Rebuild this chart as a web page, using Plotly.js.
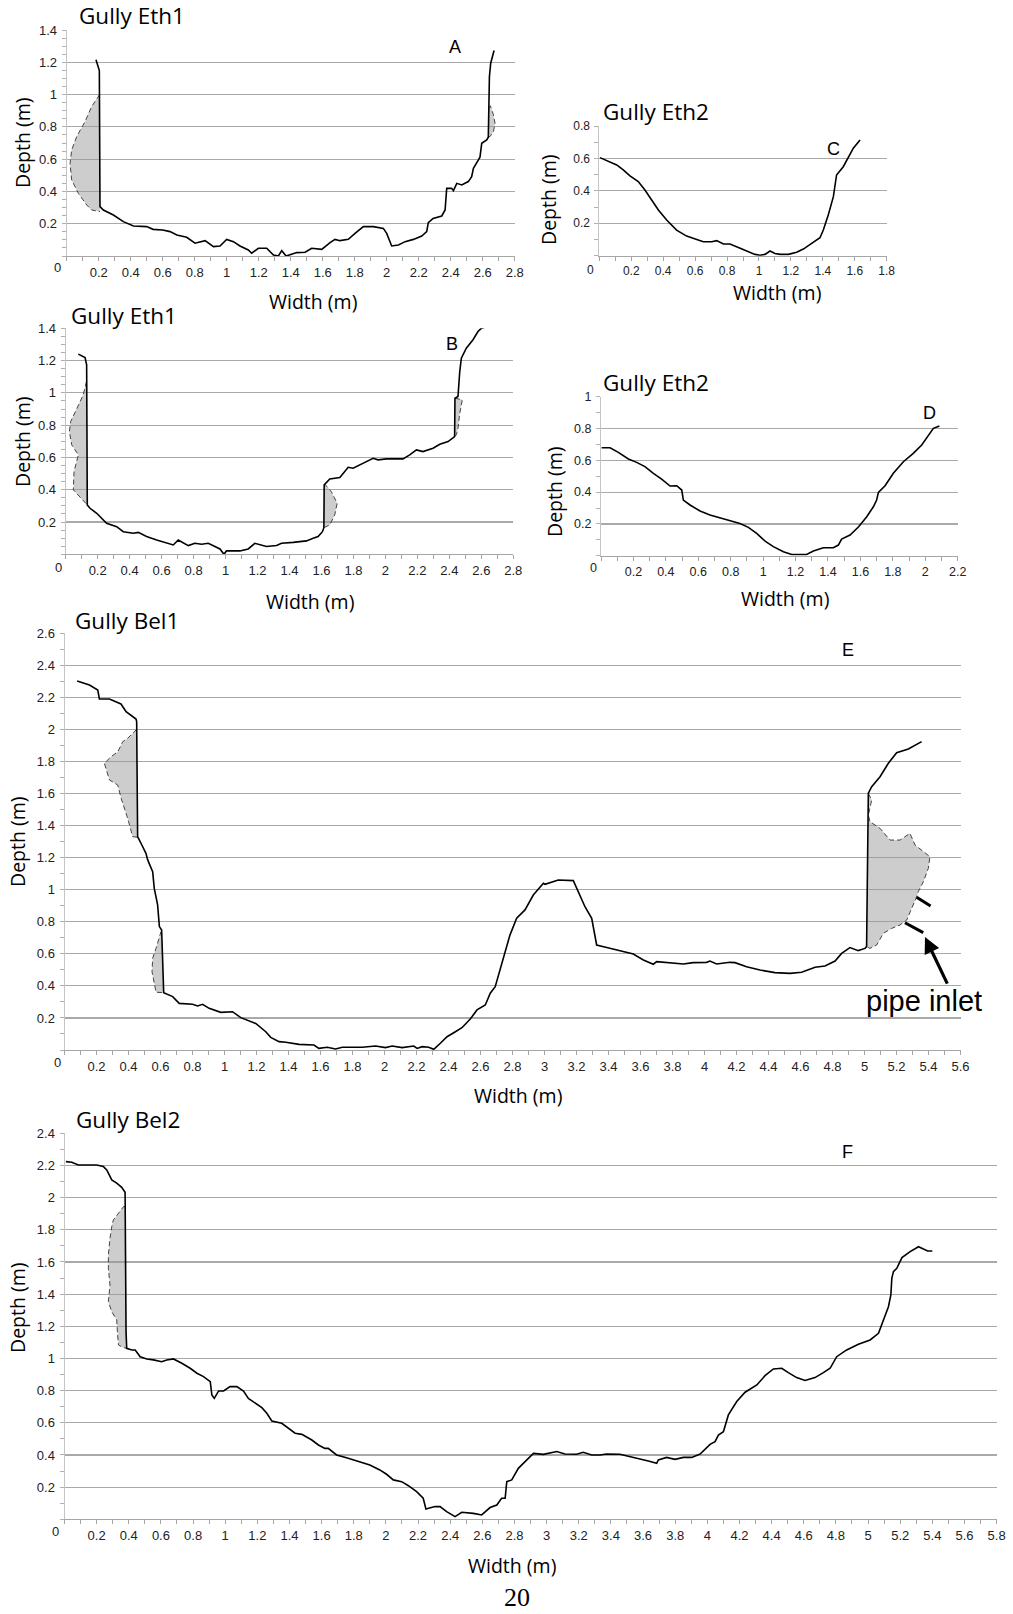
<!DOCTYPE html>
<html>
<head>
<meta charset="utf-8">
<script src="https://cdn.plot.ly/plotly-3.0.1.min.js"></script>
<style>html,body{margin:0;padding:0;background:#fff;}#chart{width:1013px;height:1614px;}</style>
</head>
<body>
<div id="chart"></div>
<script>
// ---------- DATA ----------
// Panel A: Gully Eth1
const aProfileX = [0.183,0.204,0.208,0.229,0.292,0.354,0.417,0.5,0.54,0.6,0.646,0.688,0.75,0.802,0.865,0.917,0.958,1.0,1.042,1.083,1.135,1.156,1.198,1.25,1.292,1.323,1.344,1.371,1.438,1.49,1.531,1.594,1.646,1.677,1.708,1.76,1.802,1.854,1.917,1.979,2.0,2.031,2.073,2.115,2.167,2.219,2.25,2.26,2.29,2.344,2.365,2.375,2.406,2.417,2.438,2.469,2.51,2.531,2.542,2.573,2.583,2.594,2.625,2.635,2.642,2.65,2.671];
const aProfileY = [1.215,1.149,0.306,0.285,0.254,0.213,0.186,0.182,0.165,0.161,0.151,0.13,0.116,0.079,0.095,0.058,0.062,0.103,0.089,0.062,0.037,0.017,0.048,0.048,0.006,0,0.033,0,0.021,0.023,0.048,0.041,0.083,0.103,0.095,0.103,0.14,0.182,0.182,0.171,0.14,0.062,0.068,0.089,0.103,0.124,0.151,0.207,0.233,0.248,0.285,0.419,0.419,0.405,0.45,0.44,0.461,0.492,0.543,0.591,0.612,0.698,0.719,0.736,1.112,1.194,1.273];
const aShadeLeftX = [0.206,0.185,0.156,0.115,0.0625,0.031,0.021,0.031,0.073,0.125,0.156,0.208];
const aShadeLeftY = [1.0,0.97,0.926,0.833,0.74,0.657,0.574,0.471,0.388,0.316,0.285,0.275];
const aShadeRightX = [2.637,2.648,2.667,2.677,2.667,2.646,2.637];
const aShadeRightY = [0.92,0.93,0.874,0.822,0.77,0.74,0.74];

// Panel B: Gully Eth1
const bProfileX = [0.079,0.121,0.131,0.135,0.152,0.194,0.256,0.319,0.36,0.423,0.454,0.506,0.569,0.631,0.673,0.704,0.767,0.808,0.85,0.892,0.923,0.965,0.99,1.006,1.09,1.142,1.183,1.256,1.319,1.35,1.423,1.506,1.548,1.579,1.606,1.615,1.617,1.652,1.715,1.767,1.798,1.86,1.923,1.954,2.006,2.11,2.152,2.194,2.235,2.298,2.34,2.392,2.423,2.433,2.435,2.454,2.465,2.475,2.506,2.548,2.579,2.6,2.635];
const bProfileY = [1.24,1.219,1.174,0.306,0.285,0.254,0.192,0.171,0.14,0.13,0.136,0.11,0.089,0.068,0.058,0.089,0.054,0.068,0.062,0.068,0.054,0.033,0,0.021,0.021,0.033,0.068,0.048,0.054,0.068,0.074,0.083,0.099,0.11,0.14,0.165,0.43,0.467,0.475,0.539,0.533,0.564,0.595,0.585,0.591,0.591,0.616,0.647,0.636,0.657,0.682,0.698,0.723,0.729,0.967,0.977,1.132,1.215,1.277,1.329,1.38,1.4,1.411];
const bShadeLeftX = [0.131,0.127,0.11,0.069,0.031,0.023,0.0375,0.079,0.052,0.048,0.09,0.135];
const bShadeLeftY = [1.07,1.06,0.988,0.905,0.822,0.76,0.678,0.616,0.512,0.399,0.357,0.306];
const bShadeMidX = [1.617,1.621,1.662,1.698,1.683,1.652,1.615];
const bShadeMidY = [0.43,0.434,0.388,0.316,0.244,0.182,0.165];
const bShadeRightX = [2.435,2.481,2.465,2.454,2.444,2.433];
const bShadeRightY = [0.967,0.957,0.874,0.781,0.74,0.729];

// Panel C: Gully Eth2
const cProfileX = [0.004,0.067,0.109,0.15,0.192,0.244,0.286,0.328,0.37,0.422,0.484,0.547,0.61,0.651,0.704,0.735,0.777,0.818,0.871,0.923,0.975,1.006,1.038,1.069,1.1,1.132,1.184,1.236,1.278,1.33,1.382,1.403,1.434,1.466,1.486,1.528,1.559,1.591,1.633];
const cProfileY = [0.605,0.58,0.56,0.529,0.492,0.457,0.405,0.344,0.282,0.22,0.158,0.121,0.097,0.086,0.086,0.093,0.072,0.072,0.051,0.029,0.008,0.002,0.008,0.029,0.014,0.008,0.008,0.021,0.041,0.076,0.111,0.158,0.251,0.364,0.498,0.549,0.605,0.663,0.714];

// Panel D: Gully Eth2
const dProfileX = [0.004,0.056,0.107,0.169,0.22,0.271,0.323,0.374,0.426,0.467,0.498,0.508,0.549,0.611,0.672,0.734,0.796,0.857,0.909,0.96,1.012,1.063,1.125,1.176,1.268,1.31,1.371,1.433,1.464,1.484,1.536,1.589,1.639,1.68,1.7,1.711,1.752,1.803,1.865,1.926,1.978,2.009,2.05,2.087];
const dProfileY = [0.679,0.679,0.65,0.608,0.587,0.56,0.518,0.482,0.438,0.44,0.413,0.35,0.319,0.281,0.256,0.239,0.224,0.203,0.178,0.14,0.092,0.057,0.025,0.008,0.008,0.029,0.05,0.05,0.067,0.105,0.13,0.182,0.245,0.308,0.35,0.398,0.44,0.518,0.591,0.644,0.696,0.738,0.801,0.816];

// Panel E: Gully Bel1
const eProfileX = [0.079,0.156,0.208,0.218,0.281,0.353,0.385,0.416,0.447,0.451,0.457,0.478,0.509,0.52,0.551,0.561,0.582,0.593,0.607,0.613,0.62,0.676,0.717,0.8,0.832,0.863,0.904,0.977,1.05,1.102,1.195,1.258,1.289,1.341,1.383,1.466,1.559,1.59,1.642,1.694,1.736,1.861,1.944,2.006,2.048,2.11,2.183,2.204,2.235,2.276,2.308,2.349,2.391,2.443,2.484,2.536,2.578,2.63,2.661,2.692,2.713,2.743,2.784,2.826,2.878,2.93,2.993,3.003,3.086,3.18,3.222,3.253,3.295,3.305,3.326,3.389,3.451,3.524,3.555,3.618,3.68,3.701,3.805,3.868,3.93,4.013,4.034,4.076,4.159,4.191,4.263,4.347,4.44,4.534,4.607,4.691,4.753,4.816,4.857,4.909,4.961,5.003,5.013,5.024,5.045,5.097,5.149,5.201,5.274,5.316,5.357];
const eProfileY = [2.302,2.277,2.246,2.19,2.19,2.159,2.111,2.09,2.065,2.049,1.331,1.29,1.227,1.186,1.113,1.009,0.905,0.77,0.749,0.572,0.358,0.333,0.291,0.285,0.275,0.285,0.26,0.235,0.239,0.202,0.166,0.114,0.079,0.052,0.048,0.035,0.031,0.01,0.017,0.006,0.017,0.017,0.025,0.015,0.025,0.015,0.025,0.01,0.021,0.017,0.004,0.042,0.083,0.114,0.139,0.193,0.25,0.281,0.354,0.395,0.468,0.572,0.717,0.822,0.874,0.967,1.04,1.034,1.061,1.057,0.967,0.894,0.822,0.759,0.655,0.639,0.624,0.603,0.599,0.562,0.535,0.551,0.545,0.537,0.545,0.547,0.555,0.537,0.547,0.545,0.52,0.499,0.483,0.478,0.485,0.516,0.524,0.555,0.603,0.639,0.62,0.634,0.645,1.602,1.643,1.705,1.789,1.855,1.878,1.903,1.924];
const eShadeUpperX = [0.451,0.447,0.395,0.364,0.333,0.291,0.249,0.26,0.281,0.333,0.354,0.395,0.426,0.457];
const eShadeUpperY = [2.0,1.997,1.945,1.924,1.861,1.83,1.789,1.757,1.685,1.653,1.57,1.445,1.331,1.327];
const eShadeLowerX = [0.607,0.603,0.572,0.551,0.547,0.561,0.572,0.62];
const eShadeLowerY = [0.74,0.738,0.634,0.572,0.489,0.426,0.36,0.358];
const eShadeRightX = [5.024,5.045,5.024,5.034,5.097,5.159,5.222,5.284,5.316,5.368,5.409,5.399,5.368,5.336,5.322,5.295,5.264,5.222,5.17,5.118,5.076,5.034,5.013];
const eShadeRightY = [1.6,1.56,1.466,1.425,1.383,1.31,1.31,1.352,1.279,1.238,1.206,1.134,1.05,0.988,0.946,0.884,0.811,0.78,0.759,0.728,0.655,0.634,0.645];
const pipeMark1X = [5.326,5.413], pipeMark1Y = [0.953,0.899];
const pipeMark2X = [5.253,5.367], pipeMark2Y = [0.794,0.732];
const pipeArrowHead = [5.378,0.705], pipeArrowTail = [5.522,0.405];

// Panel F: Gully Bel2
const fProfileX = [0.009,0.045,0.086,0.2,0.242,0.263,0.294,0.325,0.356,0.377,0.383,0.387,0.419,0.44,0.471,0.512,0.554,0.605,0.636,0.678,0.73,0.782,0.824,0.865,0.907,0.917,0.932,0.959,0.99,1.03,1.072,1.114,1.144,1.197,1.228,1.259,1.29,1.352,1.394,1.435,1.477,1.539,1.58,1.62,1.641,1.693,1.755,1.817,1.9,1.962,2.004,2.046,2.098,2.14,2.191,2.232,2.249,2.305,2.337,2.378,2.43,2.472,2.544,2.596,2.648,2.69,2.72,2.742,2.752,2.783,2.824,2.866,2.918,2.98,3.063,3.114,3.187,3.228,3.28,3.332,3.373,3.456,3.518,3.58,3.633,3.685,3.695,3.747,3.799,3.851,3.903,3.955,4.017,4.048,4.069,4.1,4.131,4.183,4.235,4.308,4.359,4.411,4.463,4.504,4.556,4.608,4.67,4.722,4.764,4.805,4.867,4.94,5.013,5.065,5.127,5.142,5.148,5.158,5.179,5.211,5.262,5.314,5.345,5.371,5.4];
const fProfileY = [2.224,2.22,2.203,2.203,2.193,2.172,2.11,2.09,2.064,2.033,1.167,1.063,1.053,1.053,1.011,0.997,0.991,0.98,0.991,0.997,0.97,0.939,0.908,0.887,0.856,0.773,0.752,0.798,0.798,0.825,0.825,0.798,0.752,0.715,0.694,0.659,0.611,0.597,0.566,0.535,0.528,0.493,0.462,0.441,0.441,0.4,0.383,0.363,0.338,0.307,0.28,0.245,0.234,0.209,0.172,0.131,0.064,0.079,0.079,0.048,0.017,0.044,0.037,0.027,0.073,0.089,0.131,0.131,0.234,0.245,0.317,0.359,0.41,0.404,0.421,0.406,0.404,0.417,0.4,0.4,0.406,0.404,0.39,0.379,0.363,0.348,0.369,0.385,0.373,0.385,0.385,0.406,0.466,0.483,0.524,0.545,0.649,0.732,0.79,0.835,0.893,0.935,0.939,0.912,0.881,0.863,0.881,0.912,0.939,1.011,1.053,1.088,1.115,1.156,1.322,1.395,1.498,1.54,1.561,1.627,1.664,1.695,1.681,1.668,1.668];
const fShadeX = [0.377,0.367,0.336,0.304,0.294,0.283,0.273,0.273,0.283,0.273,0.294,0.325,0.33,0.336,0.36,0.385];
const fShadeY = [1.944,1.944,1.903,1.861,1.82,1.747,1.644,1.561,1.457,1.353,1.291,1.239,1.15,1.084,1.07,1.063];

// Panel texts and axis ranges
const panelTitles = ["Gully Eth1","Gully Eth1","Gully Eth2","Gully Eth2","Gully Bel1","Gully Bel2"];
const panelLetters = ["A","B","C","D","E","F"];
const xMax = [2.8,2.8,1.8,2.2,5.6,5.8];
const yMax = [1.4,1.4,0.8,1.0,2.6,2.4];
const yMinorStep = [0.05,0.05,0.1,0.1,0.1,0.1];
const xTitle = "Width (m)", yTitle = "Depth (m)";
const pipeLabel = "pipe inlet";
const pageNumber = "20";

// ---------- LAYOUT (pixel geometry) ----------
const W = 1013, H = 1614;
const PX = x => x / W, PY = y => 1 - y / H;
// plot boxes [left, right, top, bottom] in pixels
const boxes = [
  [66.7, 514.7, 30, 256],
  [65.7, 513.3, 328.3, 554.3],
  [599.3, 886.7, 126, 255.7],
  [601, 957.7, 396.7, 555.7],
  [64.5, 960.5, 633.3, 1050],
  [64.5, 996.6, 1133.3, 1519.3]
];
const tickSizes = [13,13,12,12.5,13,13];
const titlePos  = [[77,16],[69,315],[601,112],[601,382],[73,620],[74,1119]];
const letterPos = [[455,47],[452,344],[833,149],[929,413],[848,650],[847,1152]];
const zeroPos   = [[57,268],[58,567],[590,270],[593,568],[57,1062],[55,1531]];
const yTitlePos = [[22,143],[23,442],[548,200],[555,492],[17,842],[17,1308]];
const xTitlePos = [[313,302],[310,601],[777,292],[785,599],[518,1095],[512,1565]];

function seqTicks(max){ const a=[]; for(let i=1;i*0.2<=max+1e-9;i++){a.push(Math.round(i*2)/10);} return a; }

const profiles = [[aProfileX,aProfileY],[bProfileX,bProfileY],[cProfileX,cProfileY],[dProfileX,dProfileY],[eProfileX,eProfileY],[fProfileX,fProfileY]];
const shades = [
  [[aShadeLeftX,aShadeLeftY],[aShadeRightX,aShadeRightY]],
  [[bShadeLeftX,bShadeLeftY],[bShadeMidX,bShadeMidY],[bShadeRightX,bShadeRightY]],
  [],[],
  [[eShadeUpperX,eShadeUpperY],[eShadeLowerX,eShadeLowerY],[eShadeRightX,eShadeRightY]],
  [[fShadeX,fShadeY]]
];

const traces = [];
const layout = {
  width: W, height: H, margin:{l:0,r:0,t:0,b:0},
  paper_bgcolor:'#fff', plot_bgcolor:'rgba(0,0,0,0)', showlegend:false,
  annotations: [], font:{family:'Liberation Sans, Arial, sans-serif', color:'#222'}
};

const titleFont = {family:'Open Sans, sans-serif', size:22.5, color:'#000'};
const axTitleFont = {family:'Open Sans, sans-serif', size:19.5, color:'#000'};

for (let i=0;i<6;i++){
  const n = i===0 ? '' : String(i+1);
  const xa = 'x'+n, ya = 'y'+n;
  const b = boxes[i];
  const tickFont = {family:'Liberation Sans, Arial, sans-serif', size:tickSizes[i], color:'#222'};
  const xt = seqTicks(xMax[i]), yt = seqTicks(yMax[i]);
  layout['xaxis'+n] = {
    domain:[PX(b[0]), PX(b[1])], range:[0,xMax[i]], anchor:ya,
    showgrid:false, zeroline:false, showline:true, linecolor:'#a6a6a6', linewidth:1,
    ticks:'outside', ticklen:4, tickcolor:'#a6a6a6', tickmode:'array', tickvals:xt,
    ticktext: xt.map(v=>String(v)), tickfont:tickFont,
    minor:{ticks:'outside', ticklen:4, tickcolor:'#a6a6a6', tick0:0, dtick:0.1, showgrid:false},
    fixedrange:true
  };
  layout['yaxis'+n] = {
    domain:[PY(b[3]), PY(b[2])], range:[0,yMax[i]], anchor:xa,
    showgrid:true, gridcolor:'#a9a9a9', gridwidth:1.2, zeroline:false,
    showline:true, linecolor:'#c4c4c4', linewidth:1,
    ticks:'outside', ticklen:4, tickcolor:'#b0b0b0', tickmode:'array', tickvals:yt,
    ticktext: yt.map(v=>String(v)), tickfont:tickFont, ticklabelstandoff:2,
    minor:{ticks:'outside', ticklen:4, tickcolor:'#b0b0b0', tick0:0, dtick:yMinorStep[i], showgrid:false},
    fixedrange:true
  };
  shades[i].forEach(s=>{
    traces.push({x:s[0], y:s[1], xaxis:xa, yaxis:ya, type:'scatter', mode:'lines',
      fill:'toself', fillcolor:'rgba(150,150,150,0.48)',
      line:{color:'#444', width:1, dash:'5px,3px'}, hoverinfo:'skip'});
  });
  traces.push({x:profiles[i][0], y:profiles[i][1], xaxis:xa, yaxis:ya, type:'scatter', mode:'lines',
    line:{color:'#000', width:1.6}, hoverinfo:'skip'});

  layout.annotations.push(
    {xref:'paper', yref:'paper', x:PX(titlePos[i][0]), y:PY(titlePos[i][1]), xanchor:'left', yanchor:'middle', showarrow:false, text:panelTitles[i], font:titleFont},
    {xref:'paper', yref:'paper', x:PX(letterPos[i][0]), y:PY(letterPos[i][1]), xanchor:'center', yanchor:'middle', showarrow:false, text:panelLetters[i], font:{family:'Liberation Sans, Arial, sans-serif', size:18, color:'#000'}},
    {xref:'paper', yref:'paper', x:PX(zeroPos[i][0]), y:PY(zeroPos[i][1]), xanchor:'center', yanchor:'middle', showarrow:false, text:'0', font:tickFont},
    {xref:'paper', yref:'paper', x:PX(yTitlePos[i][0]), y:PY(yTitlePos[i][1]), xanchor:'center', yanchor:'middle', showarrow:false, text:yTitle, textangle:-90, font:axTitleFont},
    {xref:'paper', yref:'paper', x:PX(xTitlePos[i][0]), y:PY(xTitlePos[i][1]), xanchor:'center', yanchor:'middle', showarrow:false, text:xTitle, font:axTitleFont}
  );
}

// pipe inlet markers (panel E)
[[pipeMark1X,pipeMark1Y],[pipeMark2X,pipeMark2Y]].forEach(m=>{
  traces.push({x:m[0], y:m[1], xaxis:'x5', yaxis:'y5', type:'scatter', mode:'lines', line:{color:'#000', width:3}, hoverinfo:'skip'});
});
layout.annotations.push(
  {xref:'x5', yref:'y5', axref:'x5', ayref:'y5', x:pipeArrowHead[0], y:pipeArrowHead[1], ax:pipeArrowTail[0], ay:pipeArrowTail[1],
   showarrow:true, arrowhead:2, arrowsize:1, arrowwidth:3.2, arrowcolor:'#000', text:''},
  {xref:'paper', yref:'paper', x:PX(924), y:PY(1001), xanchor:'center', yanchor:'middle', showarrow:false, text:pipeLabel,
   font:{family:'Liberation Sans, Arial, sans-serif', size:29, color:'#000'}},
  {xref:'paper', yref:'paper', x:PX(517), y:PY(1597), xanchor:'center', yanchor:'middle', showarrow:false, text:pageNumber,
   font:{family:'Liberation Serif, Times New Roman, serif', size:26, color:'#000'}}
);

Plotly.newPlot('chart', traces, layout, {staticPlot:true, displayModeBar:false});
</script>
</body>
</html>
